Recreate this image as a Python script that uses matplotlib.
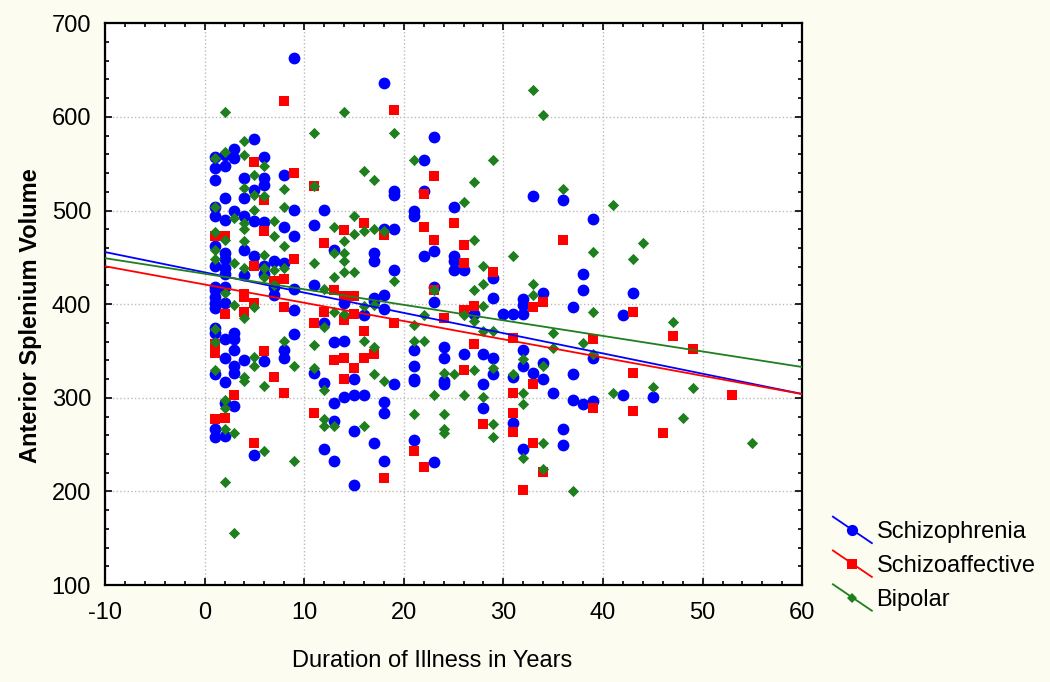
import matplotlib
matplotlib.use("Agg")
import matplotlib.pyplot as plt
from matplotlib.legend_handler import HandlerLine2D
from matplotlib.lines import Line2D
from matplotlib.ticker import MultipleLocator
import numpy as np

plt.rcParams["font.family"] = ["Liberation Sans", "DejaVu Sans"]
plt.rcParams["axes.unicode_minus"] = False

# values: duration (years) -> volume
schizo = {
    1: [557, 545, 533, 504, 494, 462, 441, 418, 415, 408, 401, 396, 375, 369, 325, 267, 258],
    2: [559, 547, 513, 490, 455, 448, 439, 432, 418, 401, 363, 342, 317, 295, 259],
    3: [566, 556, 499, 369, 363, 351, 334, 327, 291],
    4: [535, 513, 494, 458, 431, 340],
    5: [576, 522, 489, 451, 239],
    6: [557, 535, 527, 488, 441, 432, 339],
    7: [446, 418, 410],
    8: [538, 482, 444, 351, 343],
    9: [663, 501, 473, 416, 394, 368],
    11: [485, 421, 327],
    12: [501, 380, 316, 245],
    13: [458, 360, 295, 275, 233],
    14: [401, 361, 301],
    15: [320, 303, 265, 207],
    16: [388, 303],
    17: [455, 446, 407, 403, 252],
    18: [636, 480, 410, 395, 296, 284, 233],
    19: [521, 517, 480, 436, 315],
    21: [499, 494, 351, 334, 320, 318, 255],
    22: [554, 521, 451],
    23: [578, 457, 418, 402, 231],
    24: [354, 342, 318, 315],
    25: [504, 451, 446, 437],
    26: [436, 347],
    27: [389],
    28: [347, 315, 289],
    29: [428, 407, 342, 325],
    30: [390],
    31: [390, 322, 273],
    32: [405, 399, 390, 351, 334, 245],
    33: [516, 327],
    34: [412, 337, 320],
    35: [305],
    36: [511, 267, 250],
    37: [397, 325, 298],
    38: [432, 415, 293],
    39: [491, 343, 297],
    42: [388, 303],
    43: [412],
    45: [301],
}

schizoaff = {
    1: [473, 357, 348, 277],
    2: [473, 390, 279],
    3: [303],
    4: [411, 408, 392],
    5: [552, 441, 401, 252],
    6: [511, 478, 350],
    7: [425, 322],
    8: [617, 427, 397, 305],
    9: [540, 448],
    11: [526, 380, 284],
    12: [465, 392],
    13: [415, 340],
    14: [479, 409, 383, 342, 320],
    15: [409, 390, 332],
    16: [487, 371, 343],
    17: [347],
    18: [474, 214],
    19: [607, 380],
    21: [243],
    22: [518, 482, 226],
    23: [537, 468, 415],
    24: [385],
    25: [487],
    26: [463, 444, 394, 330],
    27: [398, 357],
    28: [272],
    29: [434],
    31: [364, 305, 284, 263],
    32: [202],
    33: [397, 315, 252],
    34: [402, 221],
    36: [468],
    39: [363, 289],
    43: [392, 327, 286],
    46: [262],
    47: [366],
    49: [352],
    53: [303],
}

bipolar = {
    1: [556, 504, 477, 458, 448, 373, 360, 330],
    2: [605, 562, 468, 412, 298, 289, 267, 210],
    3: [492, 444, 399, 262, 156],
    4: [574, 559, 524, 487, 480, 467, 439, 385, 322, 318],
    5: [538, 517, 501, 397, 344, 334],
    6: [547, 515, 453, 439, 429, 313, 243],
    7: [489, 473, 437, 420],
    8: [523, 504, 462, 439, 361],
    9: [334, 233],
    11: [583, 526, 444, 356, 332],
    12: [416, 376, 308, 277, 270],
    13: [482, 455, 429, 392, 270],
    14: [605, 467, 455, 446, 434, 389],
    15: [494, 475, 434],
    16: [542, 478, 398, 361, 270],
    17: [533, 480, 399, 354, 325],
    18: [478, 318],
    19: [583, 425],
    21: [554, 378, 361, 283],
    22: [388, 361],
    23: [415, 303],
    24: [327, 283, 267, 262],
    25: [325],
    26: [509, 388, 303],
    27: [530, 468, 415, 382, 330],
    28: [441, 422, 398, 371, 301],
    29: [554, 371, 332, 272, 258],
    31: [451, 325],
    32: [341, 305, 293, 236],
    33: [629, 422, 410],
    34: [602, 334, 252, 224],
    35: [369, 353],
    36: [523],
    37: [200],
    38: [359],
    39: [456, 392, 347],
    41: [506, 305],
    43: [448],
    44: [465],
    45: [312],
    47: [381],
    48: [279],
    49: [311],
    55: [252],
}

# fitted lines (intercept at 0 years, slope per year)
fit_intercept = {"Schizophrenia": 434.0, "Schizoaffective": 421.0, "Bipolar": 432.5}
fit_slope = {"Schizophrenia": -2.165, "Schizoaffective": -1.95, "Bipolar": -1.66}
fit_range = np.array([-10, 60])


def flatten(groups):
    xs, ys = [], []
    for yr, vals in groups.items():
        xs += [yr] * len(vals)
        ys += vals
    return xs, ys


class DiagonalHandler(HandlerLine2D):
    # legend key drawn as a short diagonal line with the marker in the middle
    def create_artists(self, legend, orig_handle, xdescent, ydescent,
                       width, height, fontsize, trans):
        x0, x1 = -xdescent, width - xdescent
        y0, y1 = height * 1.3 - ydescent, -height * 0.3 - ydescent
        line = Line2D([x0, x1], [y0, y1])
        self.update_prop(line, orig_handle, legend)
        line.set_marker("None")
        line.set_transform(trans)
        mk = Line2D([(x0 + x1) / 2], [(y0 + y1) / 2])
        self.update_prop(mk, orig_handle, legend)
        mk.set_linestyle("None")
        mk.set_transform(trans)
        return [line, mk]


fig = plt.figure(figsize=(10.5, 6.82), dpi=100, facecolor="#fcfcf0")
ax = fig.add_axes([0.1, 0.142, 0.664, 0.824])
ax.set_facecolor("white")

groups = [
    ("Schizophrenia", schizo, "#0000ff", "o", 72),
    ("Schizoaffective", schizoaff, "#ff0000", "s", 56),
    ("Bipolar", bipolar, "#1f7f1f", "D", 33),
]

handles = []
for name, data, color, marker, size in groups:
    xs, ys = flatten(data)
    ax.scatter(xs, ys, s=size, c=color, marker=marker, linewidths=0, zorder=3)

for name, data, color, marker, size in groups:
    ax.plot(fit_range, fit_intercept[name] + fit_slope[name] * fit_range,
            color=color, lw=1.3, zorder=4)
    handles.append(Line2D([], [], color=color, lw=1.3, marker=marker,
                          markersize=np.sqrt(size) * 0.95, markeredgewidth=0, label=name))

ax.set_xlim(-10, 60)
ax.set_ylim(100, 700)
ax.xaxis.set_major_locator(MultipleLocator(10))
ax.xaxis.set_minor_locator(MultipleLocator(2))
ax.yaxis.set_major_locator(MultipleLocator(100))
ax.yaxis.set_minor_locator(MultipleLocator(20))
ax.tick_params(which="both", direction="in", top=True, right=True, width=1.2)
ax.tick_params(which="major", length=5, labelsize=17)
ax.tick_params(axis="x", which="major", pad=12)
ax.tick_params(axis="y", which="major", pad=10)
ax.tick_params(which="minor", length=3)
for sp in ax.spines.values():
    sp.set_linewidth(1.6)

ax.grid(True, which="major", linestyle=":", color="#bbbbbb", linewidth=1)
ax.set_axisbelow(True)

ax.set_xlabel("Duration of Illness in Years", fontsize=17)
ax.set_ylabel("Anterior Splenium Volume", fontsize=17, fontweight="bold")
ax.xaxis.set_label_coords(0.469, -0.115)
ax.yaxis.set_label_coords(-0.09, 0.48)

fig.legend(handles=handles, loc="upper left", bbox_to_anchor=(0.773, 0.267),
           frameon=False, fontsize=17, handlelength=1.65, handletextpad=0.2,
           labelspacing=0.5, handler_map={Line2D: DiagonalHandler()})

fig.savefig("out.png", dpi=100, facecolor=fig.get_facecolor())
